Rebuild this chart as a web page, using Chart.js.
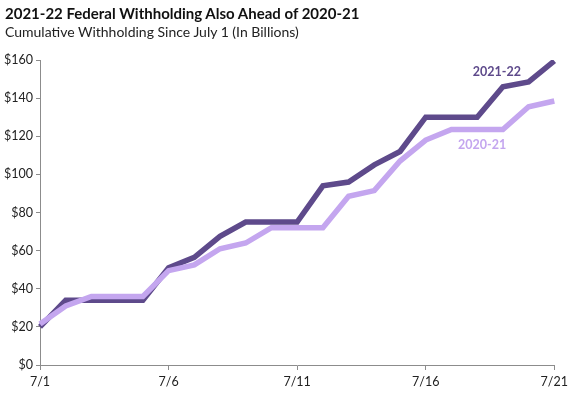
<!DOCTYPE html>
<html>
<head>
<meta charset="utf-8">
<script src="https://cdn.jsdelivr.net/npm/chart.js@4/dist/chart.umd.min.js"></script>
<style>
  body { margin: 0; background: #fff; }
  #wrap { position: relative; width: 572px; height: 394px; font-family: Lato, sans-serif; }
  #title { position: absolute; left: 5px; top: 4px; font-size: 15px; font-weight: bold; color: #111; }
  #sub { position: absolute; left: 5px; top: 23px; font-size: 14px; color: #222; }
  canvas { position: absolute; left: 0; top: 0; }
</style>
</head>
<body>
<div id="wrap">
  <canvas id="chart" width="572" height="394"></canvas>
  <div id="title">2021-22 Federal Withholding Also Ahead of 2020-21</div>
  <div id="sub">Cumulative Withholding Since July 1 (In Billions)</div>
</div>
<script>
const dates = ['7/1','7/2','7/3','7/4','7/5','7/6','7/7','7/8','7/9','7/10','7/11',
  '7/12','7/13','7/14','7/15','7/16','7/17','7/18','7/19','7/20','7/21'];
const fy2022 = [20,34,34,34,34,51,56.5,67.5,75,75,75,94,96,105,112,130,130,130,146,148.5,159.5];
const fy2021 = [21.5,31,36,36,36,49.5,52.5,61,64,72,72,72,88.5,91.5,107,118,123.5,123.5,123.5,135.5,138.5];
const yTicks = [0,20,40,60,80,100,120,140,160];

const darkColor = '#5e4a8b';
const lightColor = '#c4a6ef';

// end labels, drawn next to a data point of each series
const seriesLabels = {
  id: 'seriesLabels',
  afterDatasetsDraw(chart) {
    const ctx = chart.ctx;
    const x = chart.scales.x, y = chart.scales.y;
    ctx.save();
    ctx.font = 'bold 12.5px Lato, sans-serif';
    ctx.textAlign = 'center';
    ctx.textBaseline = 'middle';
    ctx.fillStyle = darkColor;
    ctx.fillText('2021-22', x.getPixelForValue(18) - 6, y.getPixelForValue(fy2022[20]) + 11);
    ctx.fillStyle = lightColor;
    ctx.fillText('2020-21', x.getPixelForValue(17) + 5, y.getPixelForValue(fy2021[17]) + 15);
    ctx.restore();
  }
};

new Chart(document.getElementById('chart').getContext('2d'), {
  type: 'line',
  data: {
    labels: dates,
    datasets: [{
      label: '2020-21',
      data: fy2021,
      borderColor: lightColor,
      borderWidth: 5.5,
      pointRadius: 0,
      tension: 0,
      fill: false
    }, {
      label: '2021-22',
      data: fy2022,
      borderColor: darkColor,
      borderWidth: 5.5,
      pointRadius: 0,
      tension: 0,
      fill: false
    }]
  },
  options: {
    responsive: false,
    animation: false,
    layout: { padding: { top: 60, right: 17, left: 0, bottom: 0 } },
    plugins: { legend: { display: false }, tooltip: { enabled: false } },
    scales: {
      x: {
        type: 'category',
        offset: false,
        border: { display: true, color: '#8c8c8c', width: 1 },
        grid: {
          drawOnChartArea: false,
          drawTicks: true,
          tickLength: 5,
          color: (c) => (c.index % 5 === 0 ? '#8c8c8c' : 'rgba(0,0,0,0)')
        },
        ticks: {
          autoSkip: false,
          maxRotation: 0,
          padding: 4,
          color: '#222',
          font: { family: 'Lato, sans-serif', size: 12.5 },
          callback: function (v, i) { return i % 5 === 0 ? dates[i] : ''; }
        },
        afterFit: (s) => { s.height = 29; }
      },
      y: {
        min: 0,
        max: 160,
        afterBuildTicks: (s) => { s.ticks = yTicks.map(v => ({ value: v })); },
        border: { display: true, color: '#8c8c8c', width: 1 },
        grid: { drawOnChartArea: false, drawTicks: true, tickLength: 4, color: '#8c8c8c' },
        ticks: {
          padding: 3,
          color: '#222',
          font: { family: 'Lato, sans-serif', size: 12.5 },
          callback: (v) => '$' + v
        },
        afterFit: (s) => { s.width = 40; }
      }
    }
  },
  plugins: [seriesLabels]
});
</script>
</body>
</html>
